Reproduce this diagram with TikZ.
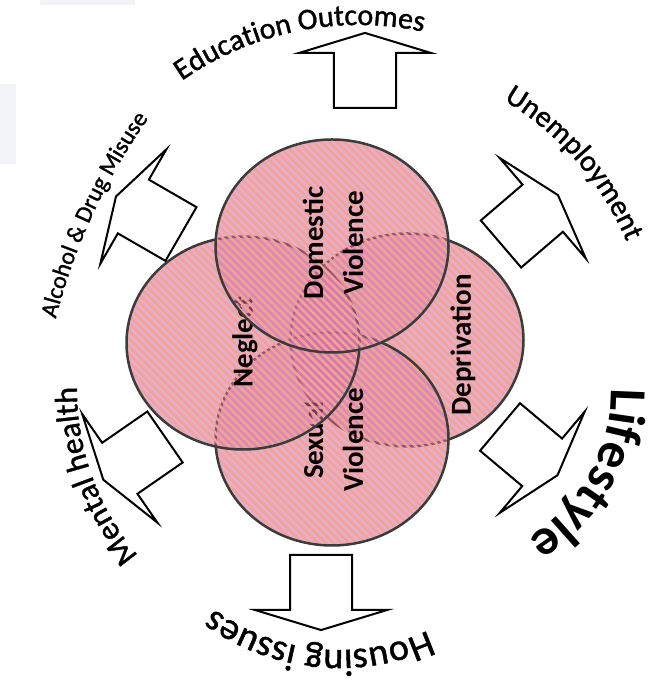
\documentclass[tikz,border=0pt]{standalone}
\usepackage{fontspec}
\setmainfont{Carlito}
\newfontfamily\ringfont[FakeBold=1.2]{Carlito}
\usetikzlibrary{shapes.geometric,patterns.meta,decorations.text}
\definecolor{petal}{RGB}{200,110,180}
\definecolor{salmon}{RGB}{248,162,140}
\definecolor{rim}{RGB}{55,60,60}
\definecolor{haze}{RGB}{240,243,248}
\tikzstyle{bubble} = [ellipse, inner sep=0pt, outer sep=0pt, minimum width=233pt, minimum height=213pt,
  draw=rim, line width=2.5pt, preaction={fill=petal, fill opacity=.55},
  pattern={Lines[angle=-45,distance=5.5pt,line width=2.6pt]}, pattern color=salmon, fill opacity=.5]
\tikzstyle{inlabel} = [font=\bfseries\fontsize{29}{40}\selectfont, align=center, rotate=90, inner sep=0pt]
\tikzstyle{blockarrow} = [draw=black, line width=2pt, fill=white, line join=miter]
\tikzset{arclabel/.style={decorate, decoration={text along path, text align=center, text={#1}}}}

\begin{document}
\begin{tikzpicture}[x=1pt,y=1pt]
\useasboundingbox (0,0) rectangle (652,684);
\fill[haze] (0,600) rectangle (16,520);
\fill[haze] (40,684) rectangle (135,679);

% circles, back to front
\node[bubble] (dep) at (407,344) {};
\node[inlabel] (deptext) at (463,339) {Deprivation};
\node[bubble] (sv) at (332,245) {};
\node[inlabel] (svtext) at (333,244) {Sexual\\Violence};
\node[bubble] (neg) at (243,341) {};
\node[inlabel] (negtext) at (245,342) {Neglect};
\node[bubble] (dv) at (332,438) {};
\node[inlabel] (dvtext) at (333,441) {Domestic\\Violence};

% block arrows pointing outwards
\foreach \x/\y/\a in {365/576/90, 321/129/-90, 181/450/150, 501/440/40.6, 500/257/-40, 165/247/214.7} {
\draw[blockarrow] (\x,\y) ++(\a-90:31) -- ++(\a:55) -- ++(\a-90:35) -- ++(\a+73.1:69)
  -- ++(\a+106.9:69) -- ++(\a-90:35) -- ++(\a+180:55) -- cycle;
}

% outer labels
\path[arclabel={|\ringfont\fontsize{30}{36}\selectfont|Education Outcomes}]
  ([shift={(131.5:309)}]359,350) arc[start angle=131.5, end angle=71.5, radius=309];
\path[arclabel={|\ringfont\fontsize{30}{36}\selectfont|Unemployment}]
  ([shift={(66:300)}]350,326) arc[start angle=66, end angle=16, radius=300];
\path[arclabel={|\fontsize{52}{58}\selectfont\bfseries|Lifestyle}]
  ([shift={(11:170)}]441,292) arc[start angle=11, end angle=-69, radius=170];
\path[arclabel={|\ringfont\fontsize{38}{44}\selectfont|Housing issues}]
  ([shift={(-55.7:212)}]339,246) arc[start angle=-55.7, end angle=-135.7, radius=212];
\path[arclabel={|\ringfont\fontsize{32}{38}\selectfont|Mental health}]
  ([shift={(225:254)}]331,294) arc[start angle=225, end angle=175, radius=254];
\path[arclabel={|\ringfont\fontsize{24}{30}\selectfont|Alcohol {\&} Drug Misuse}]
  ([shift={(169.2:600)}]637.5,218) arc[start angle=169.2, end angle=141.2, radius=600];
\end{tikzpicture}
\end{document}
